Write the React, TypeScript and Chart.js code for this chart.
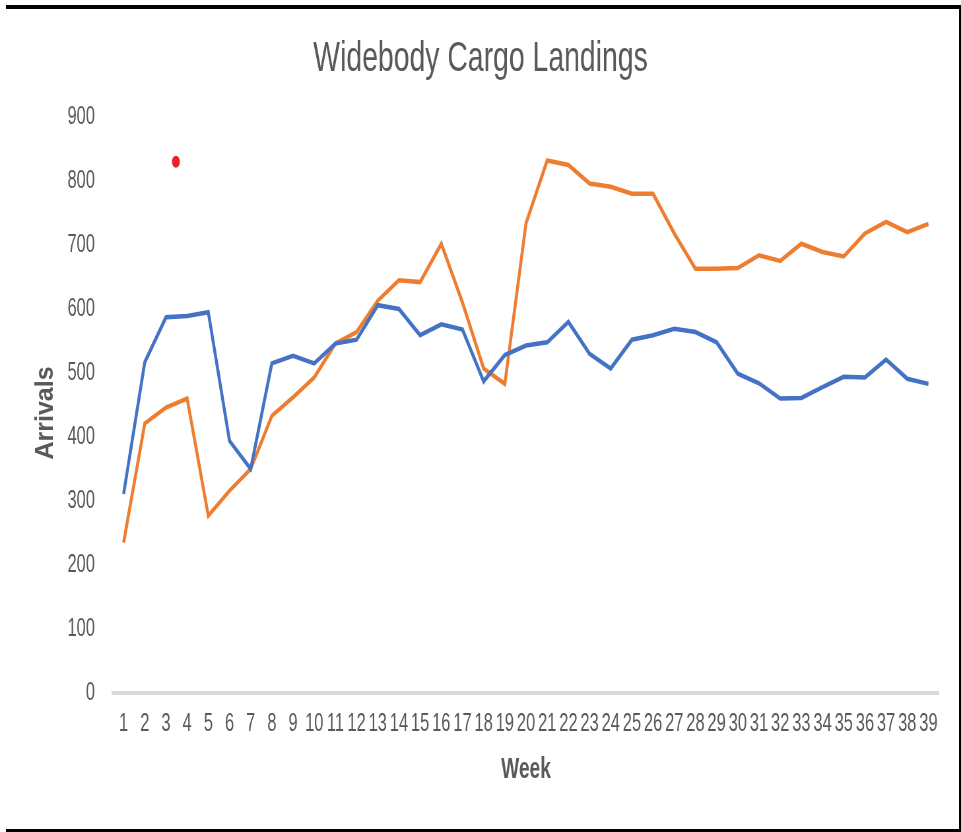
import { useEffect, useRef } from "react";
import { Chart, registerables } from "chart.js";

Chart.register(...registerables);

// ---- data ----
const weeks = [
  "1", "2", "3", "4", "5", "6", "7", "8", "9", "10",
  "11", "12", "13", "14", "15", "16", "17", "18", "19", "20",
  "21", "22", "23", "24", "25", "26", "27", "28", "29", "30",
  "31", "32", "33", "34", "35", "36", "37", "38", "39",
];

const blueSeries = [
  311, 517, 587, 589, 595, 394, 350, 515, 527, 515,
  546, 552, 606, 600, 559, 576, 568, 487, 528, 543,
  548, 580, 530, 507, 552, 559, 569, 564, 548, 499,
  484, 460, 461, 478, 494, 493, 521, 491, 483,
];

const orangeSeries = [
  235, 421, 446, 460, 277, 316, 350, 433, 462, 493,
  546, 564, 613, 645, 642, 702, 610, 507, 483, 734,
  832, 825, 796, 791, 780, 780, 718, 663, 663, 664,
  684, 675, 702, 689, 682, 718, 736, 720, 733,
];

// single red marker (position in weeks, value)
const markerWeeks = [3.47];
const markerValues = [830];

const yTickValues = [0, 100, 200, 300, 400, 500, 600, 700, 800, 900];

const chartTitle = "Widebody Cargo Landings";
const xTitle = "Week";
const yTitle = "Arrivals";

// ---- presentation ----
const CANVAS_W = 1456;
const CANVAS_H = 832;
const SQUEEZE = 961 / CANVAS_W;
const FONT = "'Liberation Sans', Arial, sans-serif";
const TEXT = "#595959";

const yTitlePlugin = {
  id: "yTitleUnsqueezed",
  afterDraw(chart: any) {
    const { ctx, chartArea } = chart;
    ctx.save();
    ctx.translate(69.7, (chartArea.top + chartArea.bottom) / 2 + 8);
    ctx.scale(1 / SQUEEZE, 1);
    ctx.rotate(-Math.PI / 2);
    ctx.font = `bold 25px ${FONT}`;
    ctx.fillStyle = TEXT;
    ctx.textAlign = "center";
    ctx.textBaseline = "middle";
    ctx.fillText(yTitle, 0, 0);
    ctx.restore();
  },
};

export default function App() {
  const ref = useRef<HTMLCanvasElement | null>(null);

  useEffect(() => {
    if (!ref.current) return;
    const chart = new Chart(ref.current, {
      type: "line",
      data: {
        labels: weeks,
        datasets: [
          {
            label: "Series 1",
            data: blueSeries,
            borderColor: "#4472C4",
            backgroundColor: "#4472C4",
            borderWidth: 4.5,
            pointRadius: 0,
            tension: 0,
          },
          {
            label: "Series 2",
            data: orangeSeries,
            borderColor: "#ED7D31",
            backgroundColor: "#ED7D31",
            borderWidth: 4.5,
            pointRadius: 0,
            tension: 0,
          },
          {
            label: "Marker",
            data: markerWeeks.map((w, i) => ({ x: w - 1, y: markerValues[i] })),
            parsing: false,
            showLine: false,
            pointRadius: 6,
            pointBorderWidth: 0,
            pointBackgroundColor: "#E8202A",
            borderColor: "#E8202A",
            backgroundColor: "#E8202A",
          } as any,
        ],
      },
      options: {
        responsive: false,
        animation: false,
        layout: { padding: { left: 0, right: 0, top: 0, bottom: 0 } },
        plugins: {
          legend: { display: false },
          tooltip: { enabled: false },
          title: {
            display: true,
            text: chartTitle,
            color: TEXT,
            font: { family: FONT, size: 43, weight: "normal" },
            padding: { top: 33, bottom: 32.4 },
          },
        },
        scales: {
          x: {
            type: "category",
            offset: true,
            grid: { display: false, drawTicks: false },
            border: { display: true, color: "#D9D9D9", width: 4 },
            ticks: {
              color: TEXT,
              font: { family: FONT, size: 25 },
              padding: 16,
              autoSkip: false,
              maxRotation: 0,
              minRotation: 0,
            },
            title: {
              display: true,
              text: xTitle,
              color: TEXT,
              font: { family: FONT, size: 29, weight: "bold" },
              padding: { top: 0, bottom: 45 },
            },
            afterFit: (s: any) => {
              s.height = 139;
            },
          },
          y: {
            min: 0,
            max: 900,
            grid: { display: false, drawTicks: false },
            border: { display: false },
            ticks: {
              color: TEXT,
              font: { family: FONT, size: 25 },
              padding: 27.3,
            },
            afterBuildTicks: (s: any) => {
              s.ticks = yTickValues.map((v) => ({ value: v }));
            },
            title: { display: false },
            afterFit: (s: any) => {
              s.width = 171.2;
            },
          },
          // empty right-hand margin box so the title stays centred on the canvas
          yRight: {
            type: "linear",
            position: "right",
            min: 0,
            max: 900,
            grid: { display: false, drawTicks: false },
            border: { display: false },
            ticks: { display: false },
            afterFit: (s: any) => {
              s.width = 33.3;
            },
          },
        },
      },
      plugins: [yTitlePlugin],
    });
    return () => chart.destroy();
  }, []);

  return (
    <div
      style={{
        position: "absolute",
        left: 0,
        top: 0,
        width: 961,
        height: 832,
        overflow: "hidden",
        background: "#FFFFFF",
      }}
    >
      <canvas
        ref={ref}
        width={CANVAS_W}
        height={CANVAS_H}
        style={{
          position: "absolute",
          left: 0,
          top: 0,
          width: CANVAS_W,
          height: CANVAS_H,
          transform: `scaleX(${SQUEEZE})`,
          transformOrigin: "0 0",
        }}
      />
      <div
        style={{
          position: "absolute",
          left: 6,
          top: 5,
          width: 955,
          height: 827,
          boxSizing: "border-box",
          borderTop: "4px solid #000",
          borderRight: "2px solid #000",
          borderBottom: "3px solid #000",
          pointerEvents: "none",
        }}
      />
    </div>
  );
}
